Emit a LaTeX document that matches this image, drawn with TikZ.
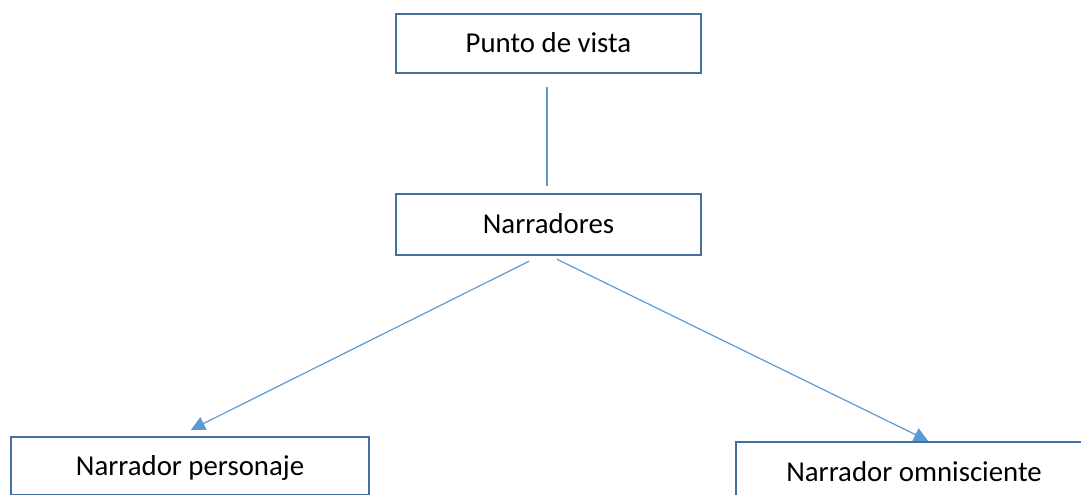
\documentclass[tikz,border=0pt]{standalone}
\usepackage{fontspec}
\setmainfont{Carlito}
\usetikzlibrary{arrows.meta, positioning}

\definecolor{boxline}{HTML}{41719C}
\definecolor{linkline}{HTML}{5B9BD5}

\tikzset{
  box/.style={draw=boxline, line width=1.25pt, fill=white, inner sep=0pt,
    minimum width=152.5pt, minimum height=30pt,
    text height=9.3pt, text depth=0pt, font=\fontsize{14.4}{17}\selectfont},
  link/.style={draw=linkline, line width=0.6pt},
  arrowlink/.style={link, -{Triangle[length=7pt,width=7pt]}}
}

\begin{document}
\begin{tikzpicture}[x=0.5pt,y=-0.5pt]
\useasboundingbox (0,0) rectangle (1081,494);
\clip (0,0) rectangle (1081,494);

\node[box, minimum height=29.5pt] (vista) at (548.5,43.5) {Punto de vista};
\node[box, minimum height=30.5pt] (narradores) at (548.5,224.5) {Narradores};
\node[box, minimum width=179pt, minimum height=29pt] (personaje) at (190,466) {Narrador personaje};
\node[box, minimum width=178pt, minimum height=30pt] (omnisciente) at (914,472) {Narrador omnisciente};

\draw[link, line width=0.8pt] ([xshift=-0.75pt,yshift=-6.5pt]vista.south) -- ([xshift=-0.75pt,yshift=3.5pt]narradores.north);
\draw[arrowlink] ([xshift=-9.75pt,yshift=-2.5pt]narradores.south) -- ([xshift=0.5pt,yshift=3pt]personaje.north);
\draw[arrowlink] ([xshift=4.25pt,yshift=-1.5pt]narradores.south) -- ([xshift=7pt]omnisciente.north);
\end{tikzpicture}
\end{document}
